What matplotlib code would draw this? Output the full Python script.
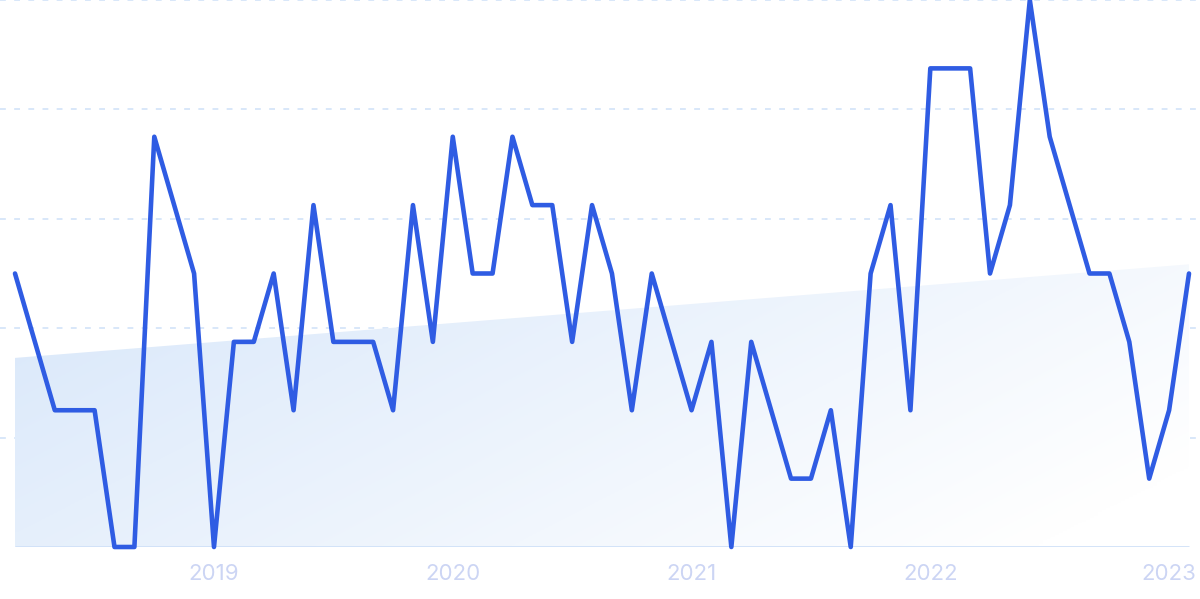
import matplotlib
matplotlib.use("Agg")
import matplotlib.pyplot as plt
from matplotlib.colors import to_rgb
import numpy as np
import pandas as pd

# monthly interest, Mar 2018 .. Feb 2023 (0-100 scale)
months = pd.date_range("2018-03-01", periods=60, freq="MS")
values = [50, 37.5, 25, 25, 25, 0, 0, 75, 62.5, 50,
          0, 37.5, 37.5, 50, 25, 62.5, 37.5, 37.5, 37.5, 25,
          62.5, 37.5, 75, 50, 50, 75, 62.5, 62.5, 37.5, 62.5,
          50, 25, 50, 37.5, 25, 37.5, 0, 37.5, 25, 12.5,
          12.5, 25, 0, 50, 62.5, 25, 87.5, 87.5, 87.5, 50,
          62.5, 100, 75, 62.5, 50, 50, 37.5, 12.5, 25, 50]
year_labels = ["2019", "2020", "2021", "2022", "2023"]

x = np.arange(len(values))
y = np.array(values)
slope, icpt = np.polyfit(x, y, 1)
trend = slope * x + icpt

fig = plt.figure(figsize=(12, 5.99), dpi=100)
ax = fig.add_axes([0, 52 / 599, 1, 547 / 599])
px = (len(x) - 1) / 1174
ax.set_xlim(-15 * px, len(x) - 1 + 11 * px)
ax.set_ylim(0, 100)

# gradient fill under the trend line
x0, x1 = x[0], x[-1]
gx, gy = np.meshgrid(np.linspace(0, 1, 300), np.linspace(0, 1, 150))
t = np.clip(0.75 * gx + 0.35 * (1 - gy), 0, 1)
c0 = np.array(to_rgb("#d8e7fa"))
c1 = np.array(to_rgb("#ffffff"))
img = c0 * (1 - t[..., None]) + c1 * t[..., None]
im = ax.imshow(img, extent=[x0, x1, 0, trend.max()], origin="lower",
               aspect="auto", zorder=1)
poly = ax.fill_between(x, 0, trend, color="none", lw=0)
im.set_clip_path(poly.get_paths()[0], transform=ax.transData)

for gv in [20, 40, 60, 80, 100]:
    ax.axhline(gv, color="#d2e3f8", lw=1.2, ls=(0, (3.5, 5)), zorder=0.5)
ax.plot([x0, x1], [0, 0], color="#d0e1f8", lw=2, zorder=2,
        solid_capstyle="butt")

ax.plot(x, y, color="#2f5ce3", lw=3.3, zorder=3, solid_joinstyle="round",
        solid_capstyle="round", clip_on=False)

jan_idx = [i for i, m in enumerate(months) if m.month == 1]
ax.set_xticks(jan_idx)
ax.set_xticklabels(year_labels, fontsize=16, color="#ccd5f4",
                   fontfamily="Inter")
ax.tick_params(axis="x", length=0, pad=12)
ax.set_yticks([])
for s in ax.spines.values():
    s.set_visible(False)
ax.patch.set_alpha(0)

fig.savefig("out.png", dpi=100)
